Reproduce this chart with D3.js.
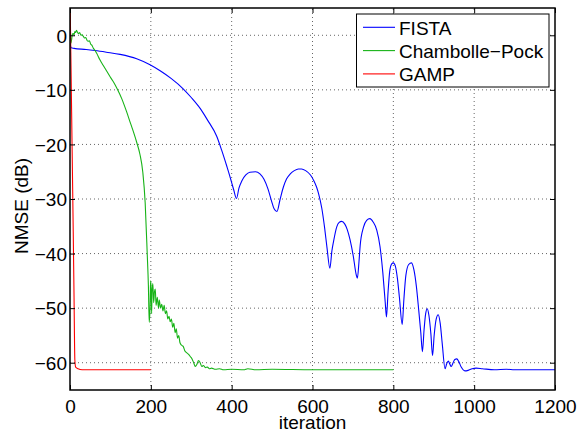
<!DOCTYPE html>
<html><head><meta charset="utf-8">
<script src="https://cdn.jsdelivr.net/npm/d3@7"></script>
<style>
body{margin:0;background:#fff}
svg{display:block}
text{font-family:"Liberation Sans",Arial,Helvetica,sans-serif;fill:#000}
</style>
</head><body>
<svg id="c" width="577" height="432"></svg>
<script>
const xTicks=[0,200,400,600,800,1000,1200];
const yTicks=[0,-10,-20,-30,-40,-50,-60];
const xLabel="iteration";
const yLabel="NMSE (dB)";
const seriesNames=["FISTA","Chambolle\u2212Pock","GAMP"];
const seriesColors=["#0000ff","#17b317","#ff0000"];

const fista=[[0,-1.5],[3,-2.3],[10,-2.4],[40,-2.6],[62,-2.8],[90,-3.1],[124,-3.5],[165,-4.3],[198,-5.4],[223,-6.5],[250,-7.9],[280,-9.8],[300,-11.4],[322,-13.4],[340,-15.5],[363,-18.5],[375,-21],[388,-24],[395,-25.7],[400,-27],[405,-28.3],[412,-29.9],
[418,-28],[425,-26.7],[435,-25.6],[445,-25.1],[459,-25.0],[470,-25.4],[480,-26.4],[490,-28.2],[498,-30.2],[505,-31.8],[512,-32.3],[520,-30],[528,-27.8],[536,-26.3],[545,-25.4],[555,-24.8],[565,-24.5],[573,-24.5],[583,-24.8],[595,-25.6],[603,-26.6],[610,-27.8],[615,-29],[623,-31.7],[630,-35.3],[636,-39],[643,-42.7],
[648,-39.5],[652,-37.8],[660,-35.1],[666,-34.3],[672,-34.1],[680,-34.6],[686,-35.6],[693,-37.5],[701,-40.5],[708,-43.8],[711,-44.5],[715,-41.5],[718,-38.5],[726,-35.2],[734,-33.9],[742,-33.6],[750,-34.2],[759,-35.7],[767,-38.7],[774,-43.5],[780,-49],[783,-51.6],
[787,-47],[791,-43.3],[796,-41.9],[800,-41.7],[805,-42.3],[810,-44.5],[815,-48],[822,-53],[826,-48.5],[831,-44],[838,-42],[845,-41.7],[851,-43],[857,-46],[863,-50.5],[868,-54.5],[872,-58],[876,-54],[880,-51],[884,-50.1],[888,-51.3],[893,-54.8],[897,-58.7],[901,-55],[906,-52],[911,-51.2],[916,-52.8],[921,-56.5],[928,-61.1],
[932,-60.2],[936,-59.7],[940,-60.3],[943,-60.7],[948,-60],[952,-59.4],[957,-59.3],[962,-59.8],[968,-60.8],[977,-61.5],[985,-61.4],[995,-61.1],[1005,-61.0],[1020,-61.1],[1050,-61.3],[1080,-61.2],[1100,-61.3],[1150,-61.3],[1200,-61.3]];

const chambollePock=[[0,9],[2,-1.5],[4,-0.8],[6,0.2],[8,0.3],[10,0.1],[12,0.7],[14,0.5],[16,0.9],[19,0.5],[21,0.3],[24,0.5],[27,0],[30,0.1],[33,-0.2],[36,-0.5],[39,-0.4],[42,-0.9],[45,-1.1],[48,-1.0],[51,-1.6],[54,-1.8],[58,-2.4],[62,-2.8],[66,-3.3],[74,-4.5],[82,-5.5],[91,-6.6],[100,-7.7],[108,-8.6],[116,-9.7],[128,-11.6],[140,-14.0],[150,-16.2],[157,-17.7],[165,-19.6],[173,-21.8],[180,-25],[186,-30.7],[191,-39.9],[194,-46],[196,-52.6],[198,-50],[199,-46],[200,-45],[201,-48],[202,-51],[203,-47],[205,-45.5],[207,-49],[209,-47],[211,-46.5],[213,-49.5],[216,-48],[219,-50],[221,-48.5],[224,-50],[227,-49.3],[230,-50.5],[233,-49.5],[236,-51],[239,-50.5],[242,-52],[245,-51.5],[248,-52.5],[251,-52],[254,-53.5],[257,-52.8],[260,-54.5],[263,-53.8],[266,-55.5],[269,-55],[272,-56.3],[276,-56.8],[280,-57],[284,-57.8],[289,-58.2],[294,-58.5],[298,-58.9],[302,-59.3],[306,-60],[310,-60.7],[314,-60.3],[318,-59.6],[322,-60],[326,-60.7],[330,-60.5],[335,-60.9],[340,-60.8],[345,-61.1],[350,-61],[360,-61.2],[370,-61.1],[380,-61.3],[400,-61.2],[430,-61.3],[440,-61.1],[460,-61.3],[500,-61.2],[600,-61.3],[700,-61.3],[800,-61.3]];

const gamp=[[0,8],[2,-3],[4,-14],[6,-25],[8,-36],[10,-48],[12,-59.5],[14,-60.8],[20,-61.1],[30,-61.3],[60,-61.3],[100,-61.3],[150,-61.3],[200,-61.3]];

const W=577,H=432;
const m={l:70,r:22,t:8,b:42};
const svg=d3.select("#c");
const x=d3.scaleLinear().domain([0,1200]).range([m.l,W-m.r]);
const y=d3.scaleLinear().domain([-65,5]).range([H-m.b,m.t]);
const fs=19;

// grid
const g=svg.append("g");
g.selectAll(".gx").data(xTicks.slice(1,-1)).join("line")
 .attr("x1",d=>x(d)).attr("x2",d=>x(d)).attr("y1",y(-65)).attr("y2",y(5))
 .attr("stroke","#666").attr("stroke-width",1).attr("stroke-dasharray","1,3");
g.selectAll(".gy").data(yTicks).join("line")
 .attr("y1",d=>y(d)).attr("y2",d=>y(d)).attr("x1",x(0)).attr("x2",x(1200))
 .attr("stroke","#666").attr("stroke-width",1).attr("stroke-dasharray","1,3");

// clip
svg.append("clipPath").attr("id","clip").append("rect")
 .attr("x",x(0)).attr("y",y(5)).attr("width",x(1200)-x(0)).attr("height",y(-65)-y(5));

const line=d3.line().x(d=>x(d[0])).y(d=>y(d[1])).curve(d3.curveMonotoneX);
const data=[fista,chambollePock,gamp];
const lg=svg.append("g").attr("clip-path","url(#clip)");
data.forEach((s,i)=>{
  lg.append("path").datum(s).attr("d",line).attr("fill","none")
   .attr("stroke",seriesColors[i]).attr("stroke-width",1.1);
});

// axes
const fmtY=d=>d<0?"\u2212"+Math.abs(d):String(d);
const axB=d3.axisBottom(x).tickValues(xTicks).tickSizeInner(-5).tickSizeOuter(0).tickFormat(d=>String(d));
const axT=d3.axisTop(x).tickValues(xTicks).tickSizeInner(-5).tickSizeOuter(0).tickFormat("");
const axL=d3.axisLeft(y).tickValues(yTicks).tickSizeInner(-5).tickSizeOuter(0).tickFormat(fmtY);
const axR=d3.axisRight(y).tickValues(yTicks).tickSizeInner(-5).tickSizeOuter(0).tickFormat("");
function style(sel){
  sel.select(".domain").remove();
  sel.selectAll("line").attr("stroke","#000").attr("stroke-width",1);
  sel.selectAll("text").attr("font-size",fs).attr("fill","#000");
}
svg.append("g").attr("transform",`translate(0,${y(-65)})`).call(axB).call(style)
  .selectAll("text").attr("dy","0.71em").attr("y",10);
svg.append("g").attr("transform",`translate(0,${y(5)})`).call(axT).call(style);
svg.append("g").attr("transform",`translate(${x(0)},0)`).call(axL).call(style)
  .selectAll("text").attr("dy","0.36em").attr("x",-3);
svg.append("g").attr("transform",`translate(${x(1200)},0)`).call(axR).call(style);

// box
svg.append("rect").attr("x",x(0)).attr("y",y(5)).attr("width",x(1200)-x(0)).attr("height",y(-65)-y(5))
 .attr("fill","none").attr("stroke","#000").attr("stroke-width",1.5);

// labels
svg.append("text").attr("x",(x(0)+x(1200))/2).attr("y",429).attr("text-anchor","middle")
 .attr("font-size",fs).text(xLabel);
svg.append("text").attr("transform",`translate(28,206) rotate(-90)`).attr("text-anchor","middle")
 .attr("font-size",fs).text(yLabel);

// legend
const leg=svg.append("g");
leg.append("rect").attr("x",356.5).attr("y",14).attr("width",192.5).attr("height",73)
 .attr("fill","#fff").attr("stroke","#000").attr("stroke-width",1);
seriesNames.forEach((n,i)=>{
  const yy=27.3+i*23.3;
  leg.append("line").attr("x1",363).attr("x2",395).attr("y1",yy).attr("y2",yy)
   .attr("stroke",seriesColors[i]).attr("stroke-width",1.1);
  leg.append("text").attr("x",399).attr("y",yy+7.5).attr("font-size",fs).text(n);
});
</script>
</body></html>
